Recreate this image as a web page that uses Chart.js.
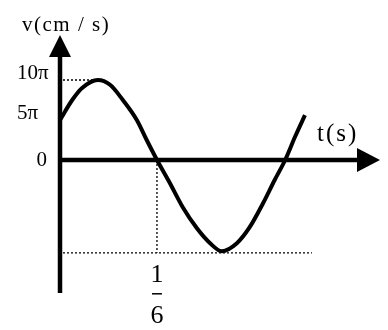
<!DOCTYPE html>
<html lang="vi">
<head>
<meta charset="UTF-8">
<title>v(t)</title>
<script src="https://cdn.jsdelivr.net/npm/chart.js"></script>
<style>
    body { margin: 0; background: #fff; }
    #khung { width: 388px; height: 330px; position: relative; }
</style>
</head>
<body>
<div id="khung"><canvas id="doThi"></canvas></div>
<script>
    // t (s) and v (in units of pi cm/s)
    const tVals = [0, 0.021, 0.038, 0.065, 0.086, 0.108, 0.132, 0.149, 0.1667, 0.189, 0.211, 0.235, 0.258, 0.278, 0.304, 0.326, 0.349, 0.369, 0.387, 0.404, 0.421];
    const vVals = [5.0, 7.5, 9.0, 10.0, 9.4, 7.5, 5.0, 2.5, 0, -2.9, -5.9, -8.5, -10.4, -11.4, -10.4, -8.4, -5.4, -2.5, 0, 2.9, 5.6];

    // tick labels on the v axis
    const vTicks = [10, 5, 0];
    const vTickLabels = ['10π', '5π', '0'];

    // marks
    const tPeak = 0.065, vPeak = 10;
    const tMark = 1 / 6;
    const vLow = -11.6;
    const tLowEnd = 0.433;

    // axis extents
    const tAxisMax = 0.55;
    const vAxisMin = -16.625, vAxisMax = 15.625;

    const trucVaChu = {
        id: 'trucVaChu',
        beforeDatasetsDraw(chart) {
            const { ctx, scales: { x, y } } = chart;
            const x0 = x.getPixelForValue(0), y0 = y.getPixelForValue(0);
            ctx.save();
            ctx.strokeStyle = '#000';
            ctx.fillStyle = '#000';

            // dotted guides
            ctx.lineWidth = 1.3;
            ctx.setLineDash([2, 2]);
            ctx.beginPath();
            ctx.moveTo(x0 + 3, y.getPixelForValue(vPeak));
            ctx.lineTo(x.getPixelForValue(tPeak) - 4, y.getPixelForValue(vPeak));
            ctx.moveTo(x.getPixelForValue(tMark), y0);
            ctx.lineTo(x.getPixelForValue(tMark), y.getPixelForValue(vLow));
            ctx.moveTo(x0 + 3, y.getPixelForValue(vLow));
            ctx.lineTo(x.getPixelForValue(tLowEnd), y.getPixelForValue(vLow));
            ctx.stroke();
            ctx.setLineDash([]);

            // axes with arrows
            const yTip = y.getPixelForValue(vAxisMax);
            const xTip = x.getPixelForValue(tAxisMax);
            ctx.lineWidth = 4.5;
            ctx.beginPath();
            ctx.moveTo(x0, y.getPixelForValue(vAxisMin));
            ctx.lineTo(x0, yTip + 20);
            ctx.moveTo(x0 - 2, y0);
            ctx.lineTo(xTip - 20, y0);
            ctx.stroke();
            ctx.beginPath();
            ctx.moveTo(x0, yTip);
            ctx.lineTo(x0 - 11, yTip + 22);
            ctx.lineTo(x0 + 11, yTip + 22);
            ctx.closePath();
            ctx.moveTo(xTip, y0);
            ctx.lineTo(xTip - 23, y0 - 12);
            ctx.lineTo(xTip - 23, y0 + 12);
            ctx.closePath();
            ctx.fill();

            // texts
            ctx.textBaseline = 'middle';
            ctx.textAlign = 'left';
            ctx.font = '21px "Liberation Serif"';
            ctx.letterSpacing = '1.5px';
            ctx.fillText('v(cm / s)', x0 - 38, yTip - 10);
            ctx.font = '25px "Liberation Serif"';
            ctx.letterSpacing = '2px';
            ctx.fillText('t(s)', xTip - 63, y0 - 26);
            ctx.letterSpacing = '0px';

            ctx.font = '21px "Liberation Serif"';
            vTicks.forEach((v, i) => {
                const py = y.getPixelForValue(v);
                if (v === 0) {
                    ctx.textAlign = 'right';
                    ctx.fillText(vTickLabels[i], x0 - 13, py);
                } else {
                    ctx.textAlign = 'left';
                    ctx.fillText(vTickLabels[i], x0 - 43, py - 7);
                }
            });

            // fraction 1/6
            const xm = x.getPixelForValue(tMark), yl = y.getPixelForValue(vLow);
            ctx.font = '26px "Liberation Serif"';
            ctx.textAlign = 'center';
            ctx.fillText('1', xm, yl + 22);
            ctx.fillText('6', xm, yl + 63);
            ctx.lineWidth = 1.5;
            ctx.beginPath();
            ctx.moveTo(xm - 5, yl + 41);
            ctx.lineTo(xm + 5, yl + 41);
            ctx.stroke();
            ctx.restore();
        }
    };

    const ctx = document.getElementById('doThi').getContext('2d');
    new Chart(ctx, {
        type: 'scatter',
        data: {
            datasets: [{
                data: tVals.map((t, i) => ({ x: t, y: vVals[i] })),
                showLine: true,
                borderColor: '#000',
                borderWidth: 4,
                pointRadius: 0,
                cubicInterpolationMode: 'monotone',
                clip: false
            }]
        },
        options: {
            responsive: true,
            maintainAspectRatio: false,
            animation: false,
            layout: { padding: { left: 60, right: 8, top: 35, bottom: 37 } },
            plugins: { legend: { display: false }, tooltip: { enabled: false } },
            scales: {
                x: { type: 'linear', display: false, min: 0, max: tAxisMax },
                y: { type: 'linear', display: false, min: vAxisMin, max: vAxisMax }
            }
        },
        plugins: [trucVaChu]
    });
</script>
</body>
</html>
